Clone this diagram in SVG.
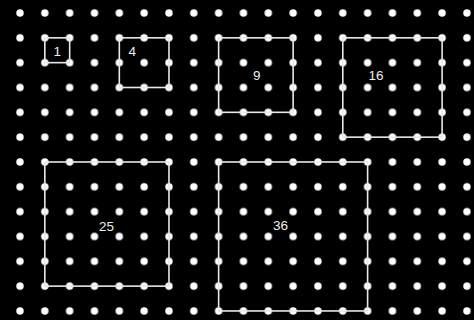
<svg xmlns="http://www.w3.org/2000/svg" width="474" height="320" viewBox="0 0 474 320">
<defs>
<style>
.sq{fill:none;stroke:#e8e8e8;stroke-width:1.6}
.lb{font-family:"Liberation Sans",Arial,sans-serif;font-size:13.5px;fill:#eeeeee}
</style>
<pattern id="dots" x="20" y="13" width="24.83" height="24.83" patternUnits="userSpaceOnUse">
<circle cx="0" cy="0" r="3.7" fill="#ffffff"/>
<circle cx="24.83" cy="0" r="3.7" fill="#ffffff"/>
<circle cx="0" cy="24.83" r="3.7" fill="#ffffff"/>
<circle cx="24.83" cy="24.83" r="3.7" fill="#ffffff"/>
</pattern>
</defs>
<rect width="474" height="320" fill="#000000"/>
<rect width="474" height="320" fill="url(#dots)"/>
<g id="connectors"></g>
<g id="n1"><rect class="sq" x="44.83" y="37.83" width="24.83" height="24.83"/><text class="lb" x="53.5" y="55.5">1</text></g>
<g id="n4"><rect class="sq" x="119.32" y="37.83" width="49.66" height="49.66"/><text class="lb" x="128.5" y="55.5">4</text></g>
<g id="n9"><rect class="sq" x="218.64" y="37.83" width="74.49" height="74.49"/><text class="lb" x="253" y="79.5">9</text></g>
<g id="n16"><rect class="sq" x="342.79" y="37.83" width="99.32" height="99.32"/><text class="lb" x="368.5" y="79.5">16</text></g>
<g id="n25"><rect class="sq" x="44.83" y="161.98" width="124.15" height="124.15"/><text class="lb" x="99" y="231">25</text></g>
<g id="n36"><rect class="sq" x="218.64" y="161.98" width="148.98" height="148.98"/><text class="lb" x="273" y="230">36</text></g>
</svg>
